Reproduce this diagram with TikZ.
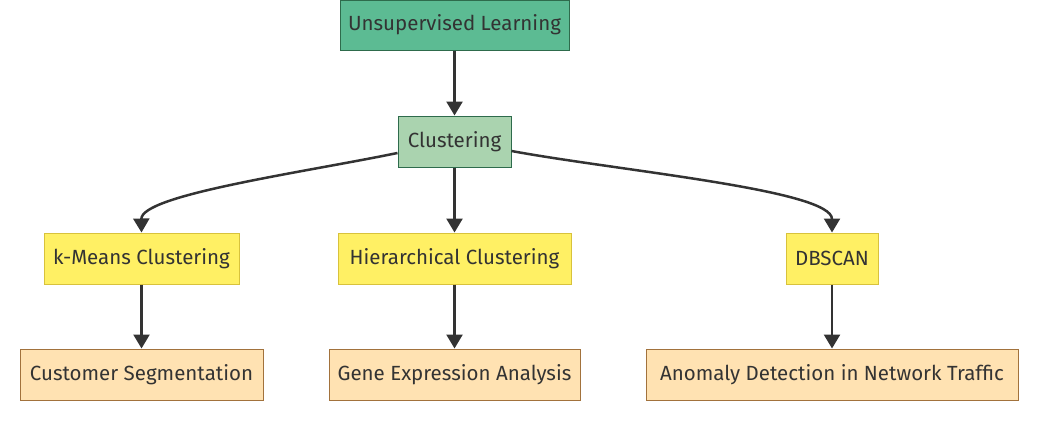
\documentclass[tikz,border=0pt]{standalone}
\usepackage{fontspec}
\setmainfont{Fira Sans}
\usetikzlibrary{arrows.meta}
\definecolor{txt}{HTML}{333333}
\definecolor{topfill}{HTML}{5CBB93}
\definecolor{topdraw}{HTML}{2E6B4C}
\definecolor{clfill}{HTML}{AAD3AF}
\definecolor{yfill}{HTML}{FFF064}
\definecolor{ydraw}{HTML}{D8C23C}
\definecolor{ofill}{HTML}{FFE2B2}
\definecolor{odraw}{HTML}{A2723C}
\tikzset{
  box/.style={rectangle, draw, line width=1pt, text=txt, font=\fontsize{20.5}{24}\selectfont, inner sep=0pt, anchor=center},
  topbox/.style={box, fill=topfill, draw=topdraw},
  clbox/.style={box, fill=clfill, draw=topdraw},
  ybox/.style={box, fill=yfill, draw=ydraw},
  obox/.style={box, fill=ofill, draw=odraw},
  conn/.style={draw=txt, line width=2.5pt, -{Triangle[length=14pt,width=16pt]}},
}
\begin{document}
\begin{tikzpicture}[x=1pt,y=-1pt]
\useasboundingbox (0,0) rectangle (1038,423);
\node[topbox, minimum width=229pt, minimum height=50pt] (ul) at (454.5,25) {Unsupervised Learning};
\node[clbox, minimum width=113pt, minimum height=51pt] (cl) at (454.5,141.5) {Clustering};
\node[ybox, minimum width=195pt, minimum height=51pt] (km) at (141.5,258.5) {k-Means Clustering};
\node[ybox, minimum width=233pt, minimum height=51pt] (hc) at (454.5,258.5) {Hierarchical Clustering};
\node[ybox, minimum width=92pt, minimum height=51pt] (db) at (832,258.5) {DBSCAN};
\node[obox, minimum width=243pt, minimum height=51pt] (cs) at (141.5,374.5) {Customer Segmentation};
\node[obox, minimum width=251pt, minimum height=51pt] (ge) at (454.5,374.5) {Gene Expression Analysis};
\node[obox, minimum width=372pt, minimum height=51pt] (an) at (832,374.5) {Anomaly Detection in Network Traffic};
\draw[conn] (ul) -- (cl);
\draw[conn] (cl) -- (hc);
\draw[conn] (km) -- (cs);
\draw[conn] (hc) -- (ge);
\draw[conn] (db) -- (an);
\draw[conn] (cl.west |- 0,153) .. controls (300,173) and (141,195) .. (km.north);
\draw[conn] (cl.east |- 0,151) .. controls (620,171) and (832,190) .. (db.north);
\end{tikzpicture}
\end{document}
